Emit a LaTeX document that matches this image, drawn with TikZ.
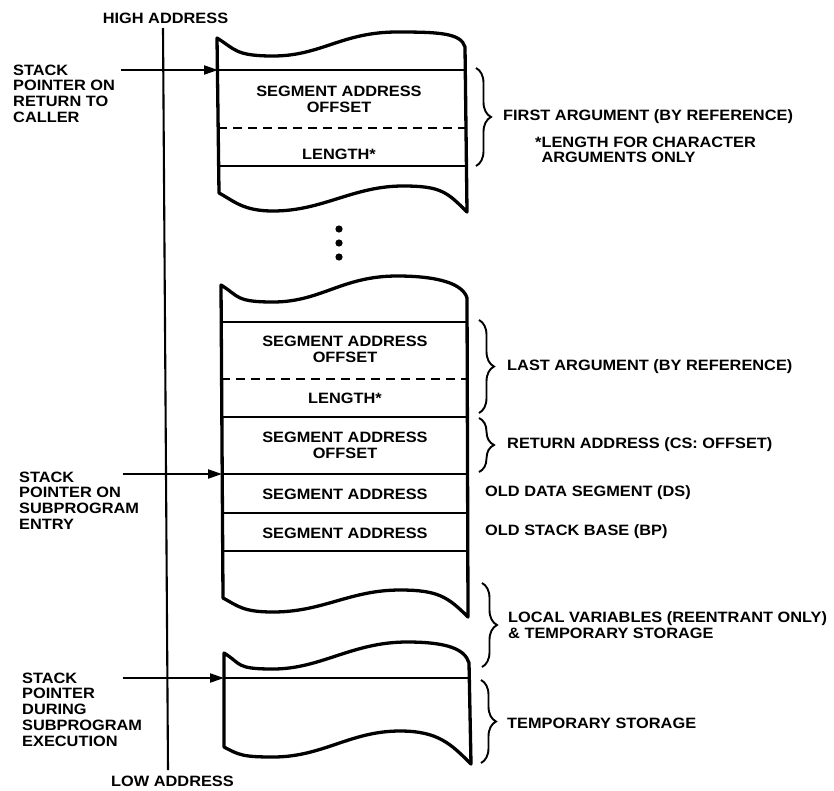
\documentclass[tikz,border=0pt]{standalone}
\usepackage{fontspec}
\newfontfamily\lblfont{Liberation Sans}[FakeStretch=1.09]
\usetikzlibrary{arrows.meta,decorations.pathreplacing}
\begin{document}
\begin{tikzpicture}[x=1pt,y=-1pt,
  txt/.style={font=\lblfont\bfseries\fontsize{15}{15.7}\selectfont, inner sep=0pt, align=left},
  ctxt/.style={txt, align=center},
  boxout/.style={line width=3.3pt, line join=round},
  rowline/.style={line width=2.8pt},
  dashrow/.style={line width=2.3pt, dash pattern=on 9pt off 6pt},
  addrline/.style={line width=2.1pt},
  ptr/.style={line width=2.1pt, -{Triangle[length=14pt,width=9pt]}},
  brc/.style={line width=1.9pt, decorate, decoration={brace, amplitude=15pt}},
]
\useasboundingbox (0,0) rectangle (834,790);
\fill[white] (0,0) rectangle (834,790);

% address axis
\node[txt] (hi) at (165.5,18) {HIGH ADDRESS};
\node[txt] (lo) at (172.5,781) {LOW ADDRESS};
\coordinate (atop) at (163,28);
\coordinate (abot) at (168,770);
\draw[addrline] (atop) -- (abot);

% ---------- block 1 ----------
\draw[boxout] (217,38) .. controls +(18,11) and +(-38,0) .. (273,56)
  .. controls +(48,0) and +(-55,0) .. (397,32)
  .. controls +(42,0) and +(-4,-14) .. (465,47)
  -- (467,212) .. controls +(-20,-20) and +(38,0) .. (403,186)
  .. controls +(-50,0) and +(50,0) .. (273,211)
  .. controls +(-30,0) and +(15,8) .. (219,193) -- cycle;
\draw[rowline] (218,70) -- (465.5,70);
\draw[dashrow] (218,128) -- (466,128);
\draw[rowline] (218,166) -- (466,166);
\node[ctxt] (b1seg) at (339,99.5) {SEGMENT ADDRESS\\OFFSET};
\node[ctxt] (b1len) at (339,154) {LENGTH*};

% dots
\fill (339,229) circle (3.6);
\fill (339,243) circle (3.6);
\fill (339,257) circle (3.6);

% ---------- block 2 ----------
\draw[boxout] (221,285) .. controls +(18,11) and +(-38,0) .. (273,302)
  .. controls +(48,0) and +(-55,0) .. (397,276)
  .. controls +(42,0) and +(-4,-14) .. (467,298)
  -- (468,617) .. controls +(-20,-20) and +(38,0) .. (400,590)
  .. controls +(-50,0) and +(50,0) .. (273,612)
  .. controls +(-30,0) and +(15,8) .. (223,598) -- cycle;
\draw[rowline] (221,322) -- (467,322);
\draw[dashrow] (221,379) -- (467,379);
\draw[rowline] (222,417) -- (467.5,417);
\draw[rowline] (222,474) -- (467.5,474);
\draw[rowline] (222,513) -- (467.5,513);
\draw[rowline] (222,551) -- (467.5,551);
\node[ctxt] (b2seg) at (345,349.5) {SEGMENT ADDRESS\\OFFSET};
\node[ctxt] (b2len) at (345,398) {LENGTH*};
\node[ctxt] (b2ret) at (345,445) {SEGMENT ADDRESS\\OFFSET};
\node[ctxt] (b2ds) at (345,494) {SEGMENT ADDRESS};
\node[ctxt] (b2bp) at (345,533) {SEGMENT ADDRESS};

% ---------- block 3 ----------
\draw[boxout] (224,653) .. controls +(18,11) and +(-38,0) .. (273,669)
  .. controls +(48,0) and +(-55,0) .. (407,642)
  .. controls +(40,0) and +(-4,-14) .. (469,663)
  -- (471,764) .. controls +(-20,-20) and +(38,0) .. (400,731)
  .. controls +(-50,0) and +(50,0) .. (273,757)
  .. controls +(-30,0) and +(15,8) .. (224,747) -- cycle;
\draw[rowline] (224,678) -- (469.5,678);

% ---------- stack pointer labels and arrows ----------
\node[txt, anchor=north west] (sp1) at (13,64.6) {STACK\\POINTER ON\\RETURN TO\\CALLER};
\node[txt, anchor=north west] (sp2) at (19,471.6) {STACK\\POINTER ON\\SUBPROGRAM\\ENTRY};
\node[txt, anchor=north west] (sp3) at (22,672.6) {STACK\\POINTER\\DURING\\SUBPROGRAM\\EXECUTION};
\coordinate (a1s) at (121,70);  \coordinate (a1e) at (218,70);
\coordinate (a2s) at (123,474); \coordinate (a2e) at (222,474);
\coordinate (a3s) at (123,678); \coordinate (a3e) at (224,678);
\draw[ptr] (a1s) -- (a1e);
\draw[ptr] (a2s) -- (a2e);
\draw[ptr] (a3s) -- (a3e);

% ---------- right side braces and labels ----------
\draw[brc] (476,68) -- (476,166);
\node[txt, anchor=west] (first) at (503,117) {FIRST ARGUMENT (BY REFERENCE)};
\node[txt, anchor=north west] (note) at (535,136.6) {*LENGTH FOR CHARACTER\\\phantom{*}ARGUMENTS ONLY};

\draw[brc] (479,320) -- (479,413);
\node[txt, anchor=west] (last) at (507,367) {LAST ARGUMENT (BY REFERENCE)};

\draw[brc] (479,418) -- (479,472);
\node[txt, anchor=west] (ret) at (507,445) {RETURN ADDRESS (CS: OFFSET)};

\node[txt, anchor=west] (ods) at (485,493) {OLD DATA SEGMENT (DS)};
\node[txt, anchor=west] (obp) at (485,532) {OLD STACK BASE (BP)};

\draw[brc] (482,583) -- (482,667);
\node[txt, anchor=north west] (loc) at (508,611.6) {LOCAL VARIABLES (REENTRANT ONLY)\\\&~TEMPORARY STORAGE};

\draw[brc] (481,680) -- (481,763);
\node[txt, anchor=west] (tmp) at (507,723) {TEMPORARY STORAGE};
\end{tikzpicture}
\end{document}
